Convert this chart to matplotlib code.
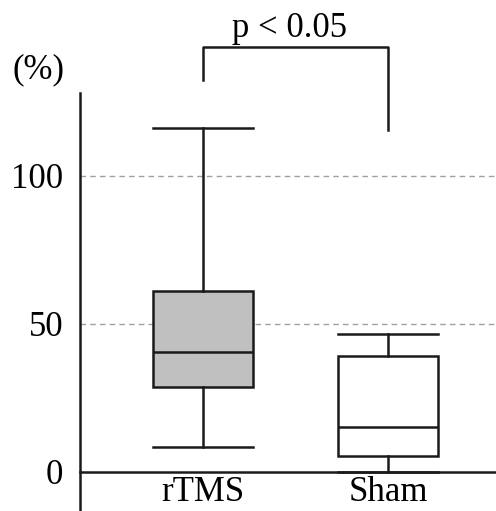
import matplotlib.pyplot as plt

plt.rcParams['font.family'] = ['Liberation Serif', 'DejaVu Serif']

groups = ['rTMS', 'Sham']
whislo = [8.4, 0.0]
q1 = [28.7, 5.4]
med = [40.5, 15.2]
q3 = [61.1, 39.2]
whishi = [116.2, 46.6]
fills = ['#c0c0c0', 'white']
yticks = [0, 50, 100]

stats = []
for i in range(len(groups)):
    stats.append({'label': groups[i], 'whislo': whislo[i], 'q1': q1[i],
                  'med': med[i], 'q3': q3[i], 'whishi': whishi[i], 'fliers': []})

fig = plt.figure(figsize=(4.96, 5.11), dpi=100)
ax = fig.add_axes([80 / 496, 0, 416 / 496, 418 / 511])

lw = 1.8
bp = ax.bxp(stats, positions=[1, 2], widths=0.54, capwidths=0.54,
            patch_artist=True, showfliers=False,
            boxprops=dict(linewidth=lw, edgecolor='#1a1a1a'),
            medianprops=dict(linewidth=lw, color='#1a1a1a'),
            whiskerprops=dict(linewidth=lw, color='#1a1a1a'),
            capprops=dict(linewidth=lw, color='#1a1a1a'), zorder=3)
for patch, c in zip(bp['boxes'], fills):
    patch.set_facecolor(c)

ax.set_xlim(0.335, 2.584)
ax.set_ylim(-13.2, 128)
for y in [50, 100]:
    ax.axhline(y, color='#a0a0a0', linestyle=(0, (4, 3)), linewidth=1, zorder=1)

ax.spines['top'].set_visible(False)
ax.spines['right'].set_visible(False)
ax.spines['bottom'].set_position(('data', 0))
ax.spines['left'].set_linewidth(lw)
ax.spines['bottom'].set_linewidth(lw)
ax.spines['left'].set_color('#1a1a1a')
ax.spines['bottom'].set_color('#1a1a1a')
ax.set_yticks(yticks)
ax.set_xticks([1, 2], groups)
ax.tick_params(axis='y', length=0, pad=12, labelsize=25)
ax.tick_params(axis='x', length=0, pad=3, labelsize=25)

# significance bracket
ax.plot([1, 1, 2, 2], [132.4, 143.6, 143.6, 115.5], color='#1a1a1a',
        linewidth=lw, clip_on=False)
ax.text(1.47, 144.2, 'p < 0.05', ha='center', va='bottom', fontsize=25)
fig.text(38 / 496, 1 - 70 / 511, '(%)', ha='center', va='center', fontsize=25)

fig.savefig('out.png', dpi=100)
